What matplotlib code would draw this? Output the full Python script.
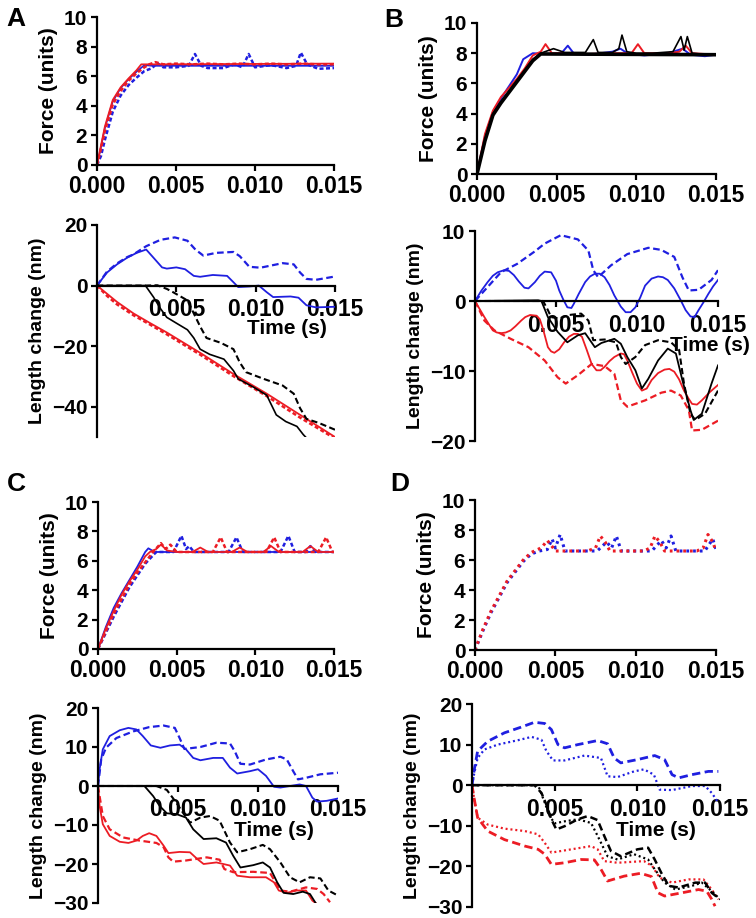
import numpy as np
import matplotlib
matplotlib.use('Agg')
import matplotlib.pyplot as plt

plt.rcParams['font.family'] = ['Liberation Sans', 'DejaVu Sans']
plt.rcParams['font.weight'] = 'bold'
plt.rcParams['axes.labelweight'] = 'bold'
plt.rcParams['font.size'] = 15

BLUE = '#1f1fe0'
RED = '#ec1c24'
BLACK = '#000000'

# ---------------- data (time in ms, force in units, length in nm) ----------------
# panel A, force
a_f_bs_t = [0, 0.25, 0.5, 1, 1.5, 2, 2.5, 3, 3.5, 4, 15]
a_f_bs_y = [0, 1.2, 2.5, 4.3, 5.2, 5.8, 6.3, 6.75, 6.7, 6.7, 6.7]
a_f_rs_t = [0, 0.25, 0.5, 1, 1.5, 2, 2.5, 2.8, 3.5, 15]
a_f_rs_y = [0, 1.3, 2.6, 4.4, 5.25, 5.85, 6.4, 6.8, 6.8, 6.85]
a_f_rd_t = [0, 0.25, 0.5, 1, 1.5, 2, 2.5, 3, 3.3, 3.7, 4.2, 5, 6, 7, 8, 9, 10, 11, 12, 13, 14, 15]
a_f_rd_y = [0, 1.1, 2.3, 4.1, 5.0, 5.7, 6.2, 6.6, 6.8, 6.95, 6.8, 6.85, 6.8, 6.85, 6.8, 6.85, 6.8, 6.85, 6.8, 6.85, 6.8, 6.8]
a_f_bd_t = [0, 0.25, 0.5, 1, 1.5, 2, 2.5, 3, 3.5, 3.8, 4.2, 5, 5.8, 6.2, 6.6, 7, 8, 8.7, 9.2, 9.6, 10,
            11, 12, 12.6, 12.9, 13.3, 14, 15]
a_f_bd_y = [0, 0.6, 1.7, 3.6, 4.7, 5.4, 5.9, 6.35, 6.55, 6.9, 6.6, 6.6, 6.7, 7.5, 6.7, 6.55, 6.55, 6.8, 6.6,
            7.5, 6.6, 6.75, 6.55, 6.7, 7.6, 6.8, 6.5, 6.55]

# panel A, length change
a_l_bs_t = [0, 0.63, 1.26, 1.9, 2.5, 3.1, 3.56, 4.1, 4.4, 5.0, 5.55, 6.1, 6.5, 7.3, 8.2, 8.6, 8.9, 9.6, 10.2,
            10.7, 11.1, 12.2, 12.7, 13.2, 13.8, 15]
a_l_bs_y = [0, 4.3, 7, 9.2, 10.8, 11.9, 9.2, 6, 5.6, 6, 5.4, 3.2, 2.9, 3.5, 3.2, 1.1, -0.5, -0.3, 0, -2.2,
            -3.8, -3.6, -4, -6.5, -7.2, -7]
a_l_bd_t = [0, 0.63, 1.26, 1.9, 2.3, 3.1, 4.0, 4.9, 5.7, 6.2, 6.7, 7.5, 8.6, 9.0, 9.6, 10.3, 11.7, 12.4,
            12.8, 13.2, 13.8, 15]
a_l_bd_y = [0, 4.6, 7.3, 9.4, 10.3, 13, 15.1, 15.9, 14.8, 11.9, 9.9, 10.8, 11.1, 9.7, 6.2, 5.9, 7.4, 7,
            4.3, 2.2, 1.9, 3]
a_l_rs_t = [0, 0.63, 1.26, 2.3, 3.35, 4.4, 6.5, 8.6, 10.7, 12.8, 15]
a_l_rs_y = [0, -2.7, -5.4, -9.2, -12.4, -15.5, -22.2, -29.2, -35.7, -42.7, -50]
a_l_rd_t = [0, 0.63, 1.26, 2.3, 3.35, 4.4, 6.5, 8.6, 10.7, 12.8, 15]
a_l_rd_y = [0, -3.4, -6.2, -9.8, -12.9, -16.1, -22.8, -29.9, -36.5, -43.6, -50.5]
a_l_ks_t = [0, 3.05, 3.56, 4.0, 4.4, 5.0, 5.7, 6.1, 6.5, 7.1, 8.0, 8.6, 8.9, 9.85, 10.7, 10.9, 11.3, 11.9,
            12.6, 13.0, 13.2]
a_l_ks_y = [0, 0, -3.8, -7.6, -10.5, -12.4, -14.6, -17.3, -21, -22.7, -24.3, -28.1, -30.8, -33.5, -36.2,
            -38.4, -42.7, -44.9, -46.5, -49.2, -50.3]
a_l_kd_t = [0, 3.1, 3.8, 4.4, 4.8, 5.7, 6.1, 6.5, 6.9, 7.8, 8.6, 9.0, 9.4, 10.5, 11.7, 12.4, 12.8, 13.2,
            14.0, 15]
a_l_kd_y = [0, 0, 0.1, -1.1, -2.2, -4.9, -9.2, -13.5, -17.3, -18.9, -21, -25.4, -28.6, -30.8, -33, -35.7,
            -40.5, -44, -45.4, -47.6]

# panel B, force
b_f_r_t = [0, 0.5, 1, 1.5, 2, 2.5, 3, 3.5, 4.0, 4.3, 4.7, 5.5, 7, 8.5, 9.7, 10.1, 10.5, 12, 12.7, 13.1,
           13.5, 15]
b_f_r_y = [0, 2.65, 4.2, 5.1, 5.7, 6.3, 7.0, 7.85, 8.1, 8.6, 8.0, 8.0, 7.95, 8.0, 8.0, 8.6, 8.0, 8.0, 8.1,
           8.5, 8.0, 7.9]
b_f_b_t = [0, 0.5, 1, 1.5, 2, 2.5, 2.9, 3.5, 4.5, 5.3, 5.7, 6.1, 7, 8.5, 9.0, 9.5, 10.5, 12, 12.9, 13.4,
           14.3, 15]
b_f_b_y = [0, 2.5, 4.1, 5.0, 5.8, 6.6, 7.6, 8.0, 7.95, 8.0, 8.5, 7.95, 7.9, 8.1, 8.3, 7.95, 7.85, 8.0,
           8.3, 7.9, 7.8, 7.9]
b_f_k_t = [0, 0.5, 1, 1.5, 2, 2.5, 3, 3.5, 4, 4.8, 5.5, 6.8, 7.3, 7.6, 8.5, 8.9, 9.1, 9.4, 10, 11, 12.3,
           12.8, 13.0, 13.2, 13.5, 14, 15]
b_f_k_y = [0, 2.3, 4.0, 4.8, 5.5, 6.2, 6.9, 7.6, 8.0, 8.3, 8.05, 8.05, 8.9, 8.05, 8.05, 8.3, 9.2, 8.1, 8.0,
           8.0, 8.1, 9.1, 8.2, 9.1, 8.0, 7.95, 7.9]
b_f_kk_t = [0, 0.5, 1, 1.5, 2, 2.5, 3, 3.5, 4, 15]
b_f_kk_y = [0, 2.2, 3.9, 4.7, 5.4, 6.1, 6.8, 7.5, 7.95, 7.9]

# panel B, length change
b_l_bs_t = [0, 0.4, 0.78, 1.1, 1.4, 1.8, 2.1, 2.4, 2.7, 3.05, 3.3, 3.7, 4.0, 4.3, 4.7, 5.0, 5.2, 5.45,
            5.7, 5.95, 6.1, 6.4, 6.8, 7.1, 7.4, 7.7, 8.0, 8.3, 8.6, 9.0, 9.3, 9.6, 9.9, 10.2, 10.5, 10.9,
            11.3, 11.6, 11.9, 12.3, 12.7, 13.0, 13.3, 13.55, 13.8, 14.1, 14.4, 14.7, 15]
b_l_bs_y = [0, 1.5, 2.7, 3.6, 4.1, 4.4, 4.3, 3.7, 2.8, 1.9, 1.8, 2.7, 3.6, 4.2, 4.1, 2.9, 1.5, 0.2, -0.9,
            -1.0, -0.4, 1.0, 2.7, 3.5, 3.9, 3.9, 3.4, 2.3, 0.8, -0.8, -1.6, -1.6, -0.9, 0.5, 2.2, 3.2, 3.5,
            3.4, 3.0, 1.8, 0.1, -1.3, -2.2, -2.3, -1.3, -0.2, 1.0, 2.1, 3.0]
b_l_bd_t = [0, 0.78, 1.6, 2.6, 3.7, 4.3, 5.3, 6.35, 7.0, 7.3, 7.6, 8.4, 9.4, 10.7, 11.5, 12.3, 12.8, 13.2,
            13.8, 14.6, 15]
b_l_bd_y = [0, 2, 4.1, 5.3, 7.1, 8.2, 9.4, 8.8, 7.2, 4.4, 3.4, 5.1, 6.7, 7.6, 7.3, 6.3, 3.4, 1.5, 1.6, 3,
            4.4]
b_l_rs_t = [0, 0.3, 0.58, 0.85, 1.1, 1.35, 1.6, 1.9, 2.2, 2.5, 2.85, 3.1, 3.4, 3.8, 4.0, 4.2, 4.35, 4.5,
            4.7, 4.9, 5.2, 5.5, 5.8, 6.1, 6.35, 6.6, 6.9, 7.2, 7.5, 7.75, 8.0, 8.3, 8.6, 9.0, 9.2, 9.4, 9.7,
            10.0, 10.3, 10.6, 10.9, 11.3, 11.7, 12.0, 12.3, 12.6, 12.9, 13.2, 13.4, 13.7, 14.0, 14.5, 15]
b_l_rs_y = [0, -1.2, -2.3, -3.3, -4.2, -4.5, -4.6, -4.5, -4.2, -3.6, -2.8, -2.3, -2.0, -2.1, -2.6, -4.0,
            -5.3, -6.6, -7.2, -7.4, -6.9, -5.9, -5.1, -4.7, -4.7, -5.1, -7.0, -9.0, -9.9, -9.9, -9.4, -8.6,
            -8.0, -7.5, -7.6, -8.5, -10.2, -11.8, -12.8, -12.5, -11.3, -10.3, -9.8, -9.7, -10.1, -11.2,
            -12.8, -14.0, -14.7, -14.8, -14.2, -13.0, -12.0]
b_l_rd_t = [0, 0.58, 1.2, 2.2, 3.3, 4.3, 5.1, 5.6, 6.35, 7.2, 8.0, 8.6, 9.0, 9.4, 10.5, 11.5, 12.1, 12.7,
            13.2, 13.4, 14.0, 15]
b_l_rd_y = [0, -2.8, -4.2, -5.4, -6.6, -8.5, -10.9, -11.8, -10.6, -9, -9.3, -10.4, -14.2, -15.1, -14.2,
            -13.1, -12.8, -13.5, -15.6, -18.5, -18.4, -17.1]
b_l_ks_t = [0, 3.9, 4.1, 4.5, 5.1, 5.7, 6.35, 6.8, 7.4, 7.8, 8.6, 9.0, 9.4, 9.9, 10.3, 10.7, 11.3, 11.9,
            12.4, 12.8, 13.3, 13.5, 14.0, 14.6, 15]
b_l_ks_y = [0, 0.1, 0, -2.3, -4.4, -5.9, -4.9, -4.6, -6.6, -6, -5.4, -6.1, -8, -9.9, -12.5, -11.1, -8.5,
            -6.8, -7.5, -11.3, -15.6, -17, -16.1, -11.8, -9.2]
b_l_kd_t = [0, 4.2, 4.5, 4.7, 5.2, 5.8, 6.55, 7.0, 7.3, 8.0, 8.7, 9.0, 9.3, 9.9, 10.5, 11.3, 12.1, 12.6,
            12.9, 13.3, 13.6, 14.2, 15]
b_l_kd_y = [0, 0, -1.3, -2.3, -2.5, -2, -1.8, -2.8, -5.6, -5.5, -5.9, -8, -9, -8, -6.3, -5.6, -5.9, -7,
            -11.8, -16.1, -17, -16.1, -12.8]

# panel C, force
c_f_bs_t = [0, 0.5, 1, 1.5, 2, 2.5, 3, 3.2, 3.6, 15]
c_f_bs_y = [0, 1.5, 2.8, 3.8, 4.7, 5.6, 6.6, 6.85, 6.6, 6.6]
c_f_rs_t = [0, 0.5, 1, 1.5, 2, 2.5, 3, 3.3, 3.7, 4.0, 4.4, 5, 6, 6.5, 7, 8.5, 9, 9.5, 10.5, 11, 11.5, 13,
            13.5, 14, 15]
c_f_rs_y = [0, 1.4, 2.6, 3.7, 4.6, 5.4, 6.3, 6.6, 6.8, 7.1, 6.7, 6.6, 6.6, 6.9, 6.6, 6.6, 6.9, 6.6, 6.6,
            7.0, 6.6, 6.6, 7.0, 6.6, 6.6]
c_f_rd_t = [0, 0.5, 1, 1.5, 2, 2.5, 3, 3.5, 4.0, 4.3, 4.6, 5, 7.3, 7.8, 8.2, 10.7, 11.2, 11.6, 14.0, 14.5,
            14.9, 15]
c_f_rd_y = [0, 1.2, 2.4, 3.4, 4.4, 5.2, 5.9, 6.6, 7.2, 6.8, 7.1, 6.6, 6.6, 7.6, 6.6, 6.6, 7.6, 6.6, 6.6,
            7.6, 6.6, 6.6]
c_f_bd_t = [0, 0.5, 1, 1.5, 2, 2.5, 3, 3.7, 4.8, 5.3, 5.6, 5.8, 6.1, 8.3, 8.8, 9.2, 11.6, 12.1, 12.5,
            13.2, 13.5, 13.8, 15]
c_f_bd_y = [0, 1.1, 2.2, 3.2, 4.2, 5.0, 5.8, 6.6, 6.6, 7.7, 6.8, 7.0, 6.6, 6.6, 7.6, 6.6, 6.6, 7.7, 6.6,
            6.6, 7.0, 6.6, 6.6]

# panel C, length change
c_l_bs_t = [0, 0.1, 0.3, 0.73, 1.36, 1.9, 2.4, 2.8, 3.3, 3.9, 4.5, 5.1, 5.5, 5.95, 6.4, 7.2, 7.8, 8.25,
            8.7, 9.5, 10.0, 10.5, 11.0, 11.4, 12.0, 12.6, 13.0, 13.4, 13.7, 14.3, 15]
c_l_bs_y = [0, 4.3, 9.4, 12.8, 14.3, 14.9, 14.5, 12.8, 10.4, 9.8, 10.4, 10.6, 9.4, 7.2, 6.6, 7.2, 7.2,
            4.7, 3.2, 3.8, 4.3, 2.6, -0.2, -0.4, 0, 0.4, 0, -3, -4, -3.8, -3.2]
c_l_bd_t = [0, 0.2, 0.5, 1.15, 2.2, 3.2, 4.1, 4.8, 5.1, 5.4, 6.4, 7.4, 8.25, 8.55, 8.9, 9.5, 10.5, 11.4,
            11.8, 12.2, 12.5, 13.0, 13.9, 15]
c_l_bd_y = [0, 6.8, 9.8, 12.3, 14, 15.1, 15.5, 14.9, 12.3, 9.5, 10, 11.1, 10.9, 8.9, 5.7, 5.5, 6.8, 7.5,
            6.8, 3.8, 1.7, 2.1, 3, 3.4]
c_l_rs_t = [0, 0.1, 0.3, 0.73, 1.36, 1.9, 2.4, 2.8, 3.2, 3.65, 4.1, 4.4, 5.1, 5.75, 6.2, 6.6, 7.4, 8.25,
            8.7, 9.5, 10.5, 11.0, 11.3, 11.8, 12.4, 13.0, 13.4, 13.6]
c_l_rs_y = [0, -5.1, -9.8, -12.8, -14.3, -14.6, -14, -12.8, -12.1, -12.8, -15.3, -17.2, -16.9, -17,
            -18.7, -20, -19.6, -20.4, -23, -23.4, -23.4, -24.7, -26.8, -27.4, -26.8, -26.8, -29.4, -30]
c_l_rd_t = [0, 0.1, 0.3, 0.73, 1.57, 2.6, 3.65, 4.1, 4.4, 4.7, 5.5, 6.8, 7.6, 7.9, 8.45, 9.7, 10.75,
            11.1, 11.4, 12.0, 13.0, 13.7, 14.1, 14.5]
c_l_rd_y = [0, -2.6, -7.7, -11.1, -13.2, -14, -14.6, -15.7, -18.3, -19.4, -19.1, -18.3, -18.9, -21.3,
            -22.1, -22, -22.3, -24.7, -26.8, -27.1, -26, -26.4, -27.7, -29.8]
c_l_ks_t = [0, 2.9, 3.45, 3.85, 4.3, 4.9, 5.5, 5.95, 6.6, 7.4, 8.0, 8.45, 8.9, 9.7, 10.3, 10.75, 11.2,
            11.6, 12.2, 12.8, 13.25, 13.6]
c_l_ks_y = [0, 0, -2.6, -5.1, -7, -7.2, -8.1, -11.1, -13.6, -13.4, -14.5, -17.9, -20.9, -20.3, -19.6,
            -20.9, -24.7, -27.4, -27.7, -27.1, -27.7, -30]
c_l_kd_t = [0, 3.65, 4.3, 4.9, 5.3, 5.75, 6.4, 7.0, 7.6, 8.25, 8.7, 9.5, 10.3, 10.75, 11.4, 12.0, 12.6,
            13.25, 13.9, 14.4, 15]
c_l_kd_y = [0, 0, -1, -4.3, -6.8, -9.4, -8.1, -7.7, -8.9, -14.5, -17, -16.2, -15.1, -16.2, -19.6, -23.4,
            -24.7, -23.4, -23.7, -26.8, -28.1]

# panel D, force
d_f_r_t = [0, 0.5, 1, 1.5, 2, 2.5, 3, 3.5, 4, 4.2, 4.5, 4.8, 5.0, 7.0, 7.5, 7.8, 8.1, 8.4, 10.5, 10.9,
           11.2, 11.5, 11.8, 13.8, 14.2, 14.5, 14.8, 15]
d_f_r_y = [0, 1.4, 2.6, 3.6, 4.6, 5.3, 6.0, 6.5, 6.75, 6.9, 7.3, 6.9, 6.6, 6.6, 6.8, 7.6, 7.2, 6.6, 6.6,
           6.8, 7.6, 7.2, 6.6, 6.6, 6.8, 7.7, 7.2, 6.6]
d_f_b_t = [0, 0.5, 1, 1.5, 2, 2.5, 3, 3.5, 4, 4.5, 4.8, 5.0, 5.3, 5.6, 7.6, 8.2, 8.5, 8.8, 9.1, 11.0,
           11.6, 11.9, 12.2, 12.5, 14.3, 14.8, 15]
d_f_b_y = [0, 1.3, 2.5, 3.5, 4.5, 5.2, 5.9, 6.4, 6.6, 6.7, 7.4, 6.8, 7.7, 6.6, 6.6, 7.2, 6.8, 7.6, 6.6,
           6.6, 7.3, 6.8, 7.6, 6.6, 6.6, 7.4, 6.7]

# panel D, length change
d_l_bd_t = [0, 0.14, 0.34, 0.95, 1.96, 2.97, 3.78, 4.4, 4.8, 5.2, 5.6, 6.4, 7.6, 8.2, 8.6, 9.0, 10.0,
            11.05, 11.65, 12.1, 12.5, 13.3, 14.3, 14.9]
d_l_bd_y = [0, 3.9, 8.4, 10.8, 12.9, 14.3, 15.5, 15.2, 13.7, 10, 9.2, 10, 11, 10.2, 6.7, 5.5, 6.3, 7.3,
            6.3, 2.6, 1.8, 2.6, 3.4, 3.4]
d_l_bt_t = [0, 0.14, 0.34, 0.75, 1.56, 2.8, 3.6, 4.2, 4.5, 4.9, 5.6, 6.8, 7.8, 8.2, 8.8, 9.8, 10.4, 11.0,
            11.35, 12.1, 13.3, 14.1, 14.5, 14.9]
d_l_bt_y = [0, 3, 6.7, 8.8, 10, 11.1, 11.9, 11.2, 8.4, 6.1, 6.1, 7.3, 6.7, 2.2, 2, 3.4, 3.9, 2.6, -1.1,
            -1.2, -0.2, -0.2, -1.9, -4.3]
d_l_rd_t = [0, 0.14, 0.34, 0.95, 1.96, 3.2, 4.0, 4.4, 4.8, 5.6, 6.6, 7.4, 7.8, 8.2, 9.2, 10.2, 10.85,
            11.25, 11.65, 12.7, 13.7, 14.2, 14.5, 14.7]
d_l_rd_y = [0, -3.5, -8, -11.3, -13.4, -15, -15.8, -17, -19.5, -19.1, -18.3, -18.4, -20.7, -23.6, -22.4,
            -21.7, -22.5, -26.5, -27.3, -26.5, -25.7, -26.1, -28.1, -29.8]
d_l_rt_t = [0, 0.14, 0.34, 0.95, 1.96, 3.2, 4.0, 4.4, 4.8, 6.0, 7.2, 7.6, 8.0, 8.8, 10.4, 10.9, 11.35,
            12.1, 13.1, 14.0, 14.5, 14.9]
d_l_rt_y = [0, -3.5, -8, -9.7, -10.7, -11.3, -12.1, -14.2, -16.6, -15.8, -15, -15.8, -18.7, -19.1, -18.7,
            -19.9, -22.8, -24, -23.2, -23.2, -25.7, -28.1]
d_l_kd_t = [0, 3.78, 4.2, 4.5, 4.8, 5.1, 5.6, 6.4, 7.0, 7.6, 8.0, 8.4, 9.0, 10.0, 10.65, 11.05, 11.45,
            11.9, 12.5, 13.5, 14.1, 14.5, 15]
d_l_kd_y = [0, 0, -1.9, -4.8, -8.4, -10.9, -10.1, -8.4, -7.6, -8.6, -12.5, -16.2, -17.5, -15.8, -15.4,
            -18.3, -21.6, -24.8, -25.2, -24, -24, -26.5, -28.1]
d_l_kt_t = [0, 4.0, 4.4, 4.7, 5.0, 5.6, 6.4, 7.2, 7.6, 8.2, 8.8, 9.8, 10.65, 11.05, 11.65, 12.3, 13.3,
            13.9, 14.5, 15]
d_l_kt_y = [0, 0, -4.3, -7.6, -9.4, -8.9, -8.4, -9.3, -12.5, -17.5, -18.3, -17, -18.3, -20.7, -24, -25.7,
            -24.8, -24, -26.1, -28.1]


# ---------------- helpers ----------------
W, H = 756, 918


def px_rect(left, right, top, bottom):
    return [left / W, 1 - bottom / H, (right - left) / W, (bottom - top) / H]


def style_axes(ax):
    for s in ['top', 'right']:
        ax.spines[s].set_visible(False)
    for s in ['left', 'bottom']:
        ax.spines[s].set_linewidth(1.6)
    ax.tick_params(width=1.6, length=4, pad=3)
    ax.tick_params(axis='y', labelsize=15)
    ax.tick_params(axis='x', labelsize=16.5)
    ax.set_xlim(0, 0.015)


def force_axes(rect):
    ax = fig.add_axes(rect)
    style_axes(ax)
    ax.set_ylim(0, 10)
    ax.set_yticks([0, 2, 4, 6, 8, 10])
    ax.set_xticks([0, 0.005, 0.010, 0.015])
    ax.set_xticklabels(['0.000', '0.005', '0.010', '0.015'])
    ax.set_ylabel('Force (units)', fontsize=15, labelpad=4)
    return ax


def length_axes(rect, ylim, yticks, tx, ty):
    ax = fig.add_axes(rect)
    style_axes(ax)
    ax.set_ylim(*ylim)
    ax.set_yticks(yticks)
    ax.spines['bottom'].set_position(('data', 0))
    ax.set_xticks([0.005, 0.010, 0.015])
    ax.set_xticklabels(['0.005', '0.010', '0.015'])
    ax.tick_params(axis='x', pad=5)
    ax.set_ylabel('Length change (nm)', fontsize=14, labelpad=4)
    ax.text(tx, ty, 'Time (s)', transform=ax.transAxes, ha='center', va='center', fontsize=15)
    return ax


def curve(ax, t_ms, y, color, style='-', lw=1.3):
    t = np.array(t_ms) / 1000.0
    if style == '-':
        ax.plot(t, y, color=color, lw=lw, solid_joinstyle='round', clip_on=True)
    elif style == '--':
        ax.plot(t, y, color=color, lw=lw, dashes=(3.0, 1.6), clip_on=True)
    elif style == 'fine':
        ax.plot(t, y, color=color, lw=lw, dashes=(1.6, 1.0), clip_on=True)
    elif style == ':':
        ax.plot(t, y, color=color, lw=lw, dashes=(0.9, 1.3), clip_on=True)


fig = plt.figure(figsize=(W / 100, H / 100), dpi=100)

# ---------------- A ----------------
ax = force_axes(px_rect(97, 334, 17, 165))
curve(ax, a_f_bd_t, a_f_bd_y, BLUE, 'fine', 1.8)
curve(ax, a_f_bs_t, a_f_bs_y, BLUE, '-', 1.2)
curve(ax, a_f_rd_t, a_f_rd_y, RED, 'fine', 1.8)
curve(ax, a_f_rs_t, a_f_rs_y, RED, '-', 1.3)

ax = length_axes(px_rect(97, 335, 225, 437), (-50, 20), [-40, -20, 0, 20], 0.80, 0.51)
curve(ax, a_l_bd_t, a_l_bd_y, BLUE, '--', 1.6)
curve(ax, a_l_bs_t, a_l_bs_y, BLUE, '-', 1.3)
curve(ax, a_l_rd_t, a_l_rd_y, RED, 'fine', 1.8)
curve(ax, a_l_rs_t, a_l_rs_y, RED, '-', 1.3)
curve(ax, a_l_kd_t, a_l_kd_y, BLACK, '--', 1.5)
curve(ax, a_l_ks_t, a_l_ks_y, BLACK, '-', 1.2)

# ---------------- B ----------------
ax = force_axes(px_rect(477, 716, 23, 174))
curve(ax, b_f_b_t, b_f_b_y, BLUE, '-', 1.4)
curve(ax, b_f_r_t, b_f_r_y, RED, '-', 1.4)
curve(ax, b_f_kk_t, b_f_kk_y, BLACK, '-', 2.6)
curve(ax, b_f_k_t, b_f_k_y, BLACK, '-', 1.2)

ax = length_axes(px_rect(475, 718, 231, 441), (-20, 10), [-20, -10, 0, 10], 0.965, 0.455)
curve(ax, b_l_bd_t, b_l_bd_y, BLUE, '--', 1.6)
curve(ax, b_l_bs_t, b_l_bs_y, BLUE, '-', 1.3)
curve(ax, b_l_rd_t, b_l_rd_y, RED, '--', 1.6)
curve(ax, b_l_rs_t, b_l_rs_y, RED, '-', 1.3)
curve(ax, b_l_kd_t, b_l_kd_y, BLACK, '--', 1.5)
curve(ax, b_l_ks_t, b_l_ks_y, BLACK, '-', 1.3)

# ---------------- C ----------------
ax = force_axes(px_rect(98, 334, 502, 649))
curve(ax, c_f_bd_t, c_f_bd_y, BLUE, 'fine', 1.8)
curve(ax, c_f_bs_t, c_f_bs_y, BLUE, '-', 1.3)
curve(ax, c_f_rd_t, c_f_rd_y, RED, 'fine', 1.8)
curve(ax, c_f_rs_t, c_f_rs_y, RED, '-', 1.3)

ax = length_axes(px_rect(98, 338, 708, 903), (-30, 20), [-30, -20, -10, 0, 10, 20], 0.733, 0.374)
curve(ax, c_l_bd_t, c_l_bd_y, BLUE, '--', 1.6)
curve(ax, c_l_bs_t, c_l_bs_y, BLUE, '-', 1.3)
curve(ax, c_l_rd_t, c_l_rd_y, RED, '--', 1.6)
curve(ax, c_l_rs_t, c_l_rs_y, RED, '-', 1.3)
curve(ax, c_l_kd_t, c_l_kd_y, BLACK, '--', 1.5)
curve(ax, c_l_ks_t, c_l_ks_y, BLACK, '-', 1.3)

# ---------------- D ----------------
ax = force_axes(px_rect(475, 716, 500, 650))
curve(ax, d_f_b_t, d_f_b_y, BLUE, ':', 2.2)
curve(ax, d_f_r_t, d_f_r_y, RED, ':', 2.2)

ax = length_axes(px_rect(472, 720, 704, 907), (-30, 20), [-30, -20, -10, 0, 10, 20], 0.742, 0.379)
curve(ax, d_l_bd_t, d_l_bd_y, BLUE, '--', 2.0)
curve(ax, d_l_bt_t, d_l_bt_y, BLUE, ':', 1.6)
curve(ax, d_l_rd_t, d_l_rd_y, RED, '--', 2.0)
curve(ax, d_l_rt_t, d_l_rt_y, RED, ':', 1.6)
curve(ax, d_l_kd_t, d_l_kd_y, BLACK, '--', 1.8)
curve(ax, d_l_kt_t, d_l_kt_y, BLACK, ':', 1.6)

# panel letters
for letter, x, y in [('A', 16, 19), ('B', 394, 20), ('C', 16, 484), ('D', 400, 484)]:
    fig.text(x / W, 1 - y / H, letter, fontsize=19, fontweight='bold', ha='center', va='center')

fig.savefig('out.png', dpi=100)
